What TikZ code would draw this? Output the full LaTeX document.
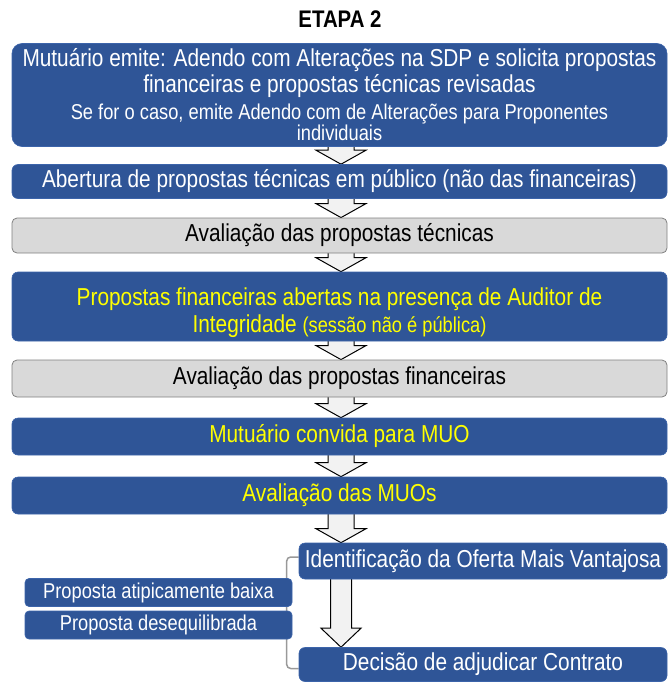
\documentclass[tikz,border=0pt]{standalone}
\usepackage{fontspec}
\setmainfont{Liberation Sans}[FakeStretch=0.85]
\usetikzlibrary{calc,backgrounds}
\definecolor{bl}{RGB}{47,85,151}
\definecolor{blb}{RGB}{60,100,170}
\definecolor{gf}{RGB}{217,217,217}
\definecolor{gb}{RGB}{128,128,128}
\definecolor{af}{RGB}{242,242,242}
\definecolor{ylw}{RGB}{255,255,0}
\newcommand\barrow[6]{%
  \path (#1.south -| #3) coordinate (s) (#2.north -| #3) coordinate (t);
  \draw[arr] ($(s)+(-#4,-3)$) -- ($(s)+(#4,-3)$) -- ($(t)+(#4,-#6)$) -- ($(t)+(#5,-#6)$) -- (t) -- ($(t)+(-#5,-#6)$) -- ($(t)+(-#4,-#6)$) -- cycle;}
\begin{document}
\begin{tikzpicture}[x=1pt,y=-1pt,
  bbox/.style={fill=bl, draw=blb, line width=0.6pt, rounded corners=6pt, text=white, inner sep=0pt, align=center},
  gbox/.style={fill=gf, draw=gb, line width=0.8pt, rounded corners=5pt, text=black, inner sep=0pt, align=center},
  big/.style={font=\fontsize{24.5}{28}\selectfont},
  small/.style={font=\fontsize{21.5}{24}\selectfont},
  arr/.style={fill=af, draw=black, line width=1pt, line join=miter},
  brk/.style={draw=gray!80, line width=1.5pt, rounded corners=4pt}]
\useasboundingbox (0,0) rectangle (671,683);
\node[font=\bfseries\fontsize{24}{26}\selectfont] (title) at (340,19) {ETAPA 2};
\node[bbox, rounded corners=10pt, minimum width=655, minimum height=103] (b1) at (339.5,95)
  {\fontsize{24.5}{24}\selectfont Mutuário emite: Adendo com Alterações na SDP e solicita propostas\\[1pt]
   \fontsize{24.5}{24}\selectfont financeiras e propostas técnicas revisadas\\[6pt]
   \fontsize{21.5}{21}\selectfont Se for o caso, emite Adendo com de Alterações para Proponentes\\
   \fontsize{21.5}{21}\selectfont individuais};
\node[bbox, big, minimum width=655, minimum height=34] (b2) at (339.5,181.5)
  {Abertura de propostas técnicas em público (não das financeiras)};
\node[gbox, big, minimum width=655, minimum height=35] (b3) at (339.5,235.5)
  {Avaliação das propostas técnicas};
\node[bbox, text=ylw, minimum width=655, minimum height=69] (b4) at (339.5,306.5)
  {\fontsize{24.5}{26}\selectfont \rule{0pt}{30pt}Propostas financeiras abertas na presença de Auditor de\\[3pt]
   \fontsize{24.5}{26}\selectfont Integridade {\fontsize{21.5}{24}\selectfont(sessão não é pública)}};
\node[gbox, big, minimum width=655, minimum height=37] (b5) at (339.5,378.5)
  {Avaliação das propostas financeiras};
\node[bbox, big, text=ylw, minimum width=655, minimum height=37] (b6) at (339.5,436.5)
  {Mutuário convida para MUO};
\node[bbox, big, text=ylw, minimum width=655, minimum height=37] (b7) at (339.5,495.5)
  {Avaliação das MUOs};
\node[bbox, big, minimum width=368, minimum height=36] (b8) at (483,561)
  {Identificação da Oferta Mais Vantajosa};
\node[bbox, big, minimum width=368, minimum height=34] (b9) at (483,664.5)
  {Decisão de adjudicar Contrato};
\node[bbox, small, rounded corners=4pt, minimum width=267, minimum height=28] (sa) at (158.5,592.5)
  {Proposta\ atipicamente\ baixa};
\node[bbox, small, rounded corners=4pt, minimum width=267, minimum height=28] (sb) at (158.5,625)
  {Proposta\ desequilibrada};
\coordinate (ax) at (341,0);
\begin{scope}[on background layer]
  \barrow{b1}{b2}{ax}{13}{25}{14}
  \barrow{b2}{b3}{ax}{13}{25}{14}
  \barrow{b3}{b4}{ax}{13}{25}{14}
  \barrow{b4}{b5}{ax}{13}{25}{14}
  \barrow{b5}{b6}{ax}{13}{25}{14}
  \barrow{b6}{b7}{ax}{13}{25}{14}
  \barrow{b7}{b8}{ax}{13}{25}{14}
  \barrow{b8}{b9}{ax}{10.5}{20}{19}
  \draw[brk] ($(b8.west)+(0,-4)$) -- ++(-12,0) |- ($(b9.west)+(0,4)$);
\end{scope}
\end{tikzpicture}
\end{document}
